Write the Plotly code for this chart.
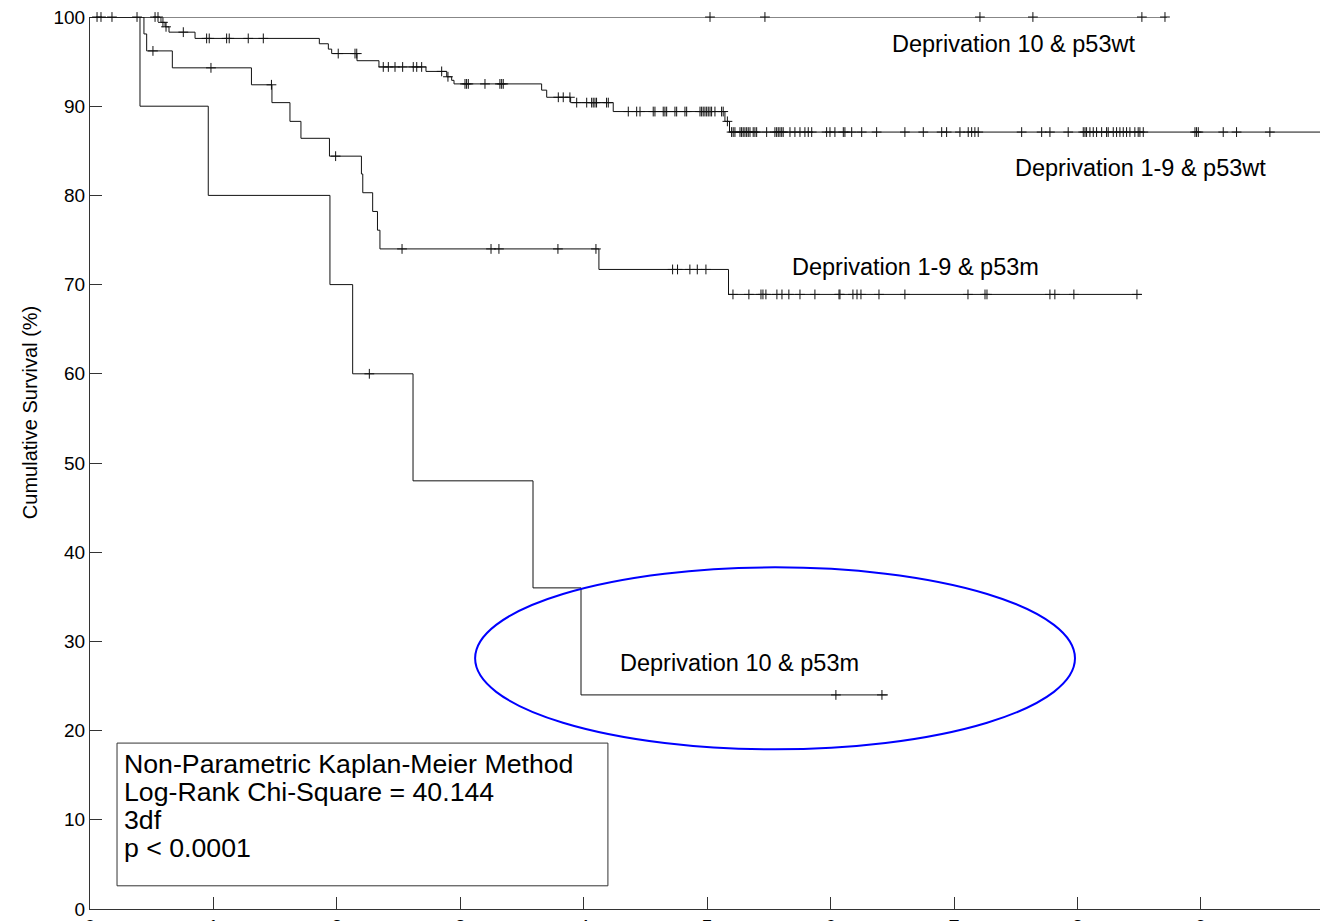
import plotly.graph_objects as go

# ---------------- data (years, % survival) ----------------
# Deprivation 10 & p53m
d10m_event_t = [0.405, 0.958, 1.944, 2.128, 2.617, 3.589, 3.978]
d10m_level = [90, 80, 70, 60, 48, 36, 24]
d10m_end = 6.465
d10m_cens_t = [2.263, 6.043, 6.416]
d10m_cens_s = [60, 24, 24]

# Deprivation 1-9 & p53m
d19m_event_t = [0.437, 0.459, 0.667, 1.308, 1.474, 1.620, 1.709, 1.940, 2.199, 2.210,
                2.290, 2.329, 2.349, 4.123, 5.173]
d19m_level = [98.1, 96.2, 94.3, 92.4, 90.4, 88.3, 86.4, 84.4, 82.4, 80.3,
              78.2, 76.1, 74.0, 71.7, 68.9]
d19m_end = 8.522
d19m_cens_t = [0.510, 0.980, 1.470, 1.990,
               2.528, 3.249, 3.313, 3.791, 4.099,
               4.72, 4.76, 4.86, 4.92, 4.99,
               5.209, 5.338, 5.436, 5.452, 5.476, 5.565, 5.606, 5.662, 5.752, 5.873,
               6.068, 6.076, 6.181, 6.214, 6.246, 6.392, 6.602, 7.113, 7.251, 7.267,
               7.777, 7.817, 7.971, 8.482]
d19m_cens_s = [96.2, 94.3, 92.4, 84.4,
               74.0, 74.0, 74.0, 74.0, 74.0,
               71.7, 71.7, 71.7, 71.7, 71.7] + [68.9] * 24

# Deprivation 1-9 & p53wt
d19w_event_t = [0.575, 0.608, 0.640, 0.851, 1.858, 1.931, 1.958, 2.163, 2.341, 2.722,
                2.890, 2.930, 2.949, 3.659, 3.700, 3.894, 4.239, 5.144, 5.181]
d19w_level = [99.4, 98.9, 98.3, 97.6, 97.0, 96.4, 95.9, 95.1, 94.4, 93.9,
              93.3, 92.9, 92.5, 91.8, 91.0, 90.4, 89.4, 88.3, 87.1]
d19w_end = 10.0
d19w_cens_t = ([0.057, 0.089, 0.178, 0.527, 0.551, 0.591, 0.616, 0.756,
                0.945, 0.966, 1.107, 1.128, 1.282, 1.404,
                2.011, 2.147, 2.161,
                2.376, 2.417, 2.471, 2.533, 2.619, 2.647, 2.687,
                2.849, 2.900,
                3.038, 3.051, 3.065, 3.200, 3.321, 3.335, 3.348,
                3.794, 3.834, 3.888,
                3.943, 4.024, 4.064, 4.077, 4.091, 4.104, 4.185, 4.199,
                4.361, 4.429, 4.456, 4.563, 4.577, 4.644, 4.658, 4.672, 4.739, 4.753,
                4.820, 4.834, 4.942, 4.955, 4.968, 4.982, 4.996, 5.009, 5.023, 5.036,
                5.063, 5.117, 5.130,
                5.164]
               + [5.198, 5.211, 5.225, 5.266, 5.279, 5.292, 5.306, 5.320, 5.333, 5.347,
                  5.373, 5.387, 5.401, 5.482, 5.549, 5.563, 5.576, 5.590, 5.604, 5.616,
                  5.671, 5.711, 5.752, 5.792, 5.819, 5.847, 5.968, 5.995, 6.035, 6.103,
                  6.116, 6.171, 6.252, 6.373, 6.602, 6.751, 6.900, 6.940, 7.048, 7.115,
                  7.143, 7.169, 7.196, 7.548, 7.710, 7.777, 7.925, 8.047, 8.061, 8.074,
                  8.101, 8.128, 8.155, 8.196, 8.236, 8.249, 8.290, 8.317, 8.344, 8.371,
                  8.398, 8.425, 8.465, 8.492, 8.506, 8.533, 8.952, 8.965, 8.979, 9.181,
                  9.289, 9.559])
d19w_cens_s = ([100, 100, 100, 100, 100, 99.4, 98.9, 98.3]
               + [97.6] * 6 + [95.9] * 3 + [94.4] * 7 + [93.9, 93.3]
               + [92.5] * 7 + [91.0] * 3 + [90.4] * 8 + [89.4] * 23 + [88.3]
               + [87.1] * 72)

# Deprivation 10 & p53wt (no events)
d10w_end = 8.725
d10w_cens_t = [0.381, 5.023, 5.468, 7.210, 7.639, 8.522, 8.709]
d10w_cens_s = [100] * 7

curve_labels = ["Deprivation 10 & p53wt", "Deprivation 1-9 & p53wt",
                "Deprivation 1-9 & p53m", "Deprivation 10 & p53m"]
stats_lines = ["Non-Parametric Kaplan-Meier Method", "Log-Rank Chi-Square = 40.144",
               "3df", "p < 0.0001"]
x_ticks = list(range(0, 11))
y_ticks = list(range(0, 101, 10))

FONT = "Liberation Sans, Arial, Helvetica, sans-serif"

fig = go.Figure()


def add_km(event_t, levels, end_t, cens_t, cens_s):
    xs = [0.0] + list(event_t) + [end_t]
    ys = [100.0] + list(levels) + [levels[-1] if levels else 100.0]
    fig.add_trace(go.Scatter(x=xs, y=ys, mode="lines", line=dict(color="#111", width=1, shape="hv"),
                             cliponaxis=False, showlegend=False, hoverinfo="skip"))
    fig.add_trace(go.Scatter(x=cens_t, y=cens_s, mode="markers",
                             marker=dict(symbol="cross-thin", size=7,
                                         line=dict(color="#111", width=1)),
                             cliponaxis=False, showlegend=False, hoverinfo="skip"))


add_km([], [], d10w_end, d10w_cens_t, d10w_cens_s)
add_km(d19w_event_t, d19w_level, d19w_end, d19w_cens_t, d19w_cens_s)
add_km(d19m_event_t, d19m_level, d19m_end, d19m_cens_t, d19m_cens_s)
add_km(d10m_event_t, d10m_level, d10m_end, d10m_cens_t, d10m_cens_s)

# curve labels
label_pos = [(6.481, 96.97), (7.477, 83.07), (5.671, 71.97), (4.277, 27.58)]
for txt, (lx, ly) in zip(curve_labels, label_pos):
    fig.add_annotation(x=lx, y=ly, text=txt, showarrow=False, xanchor="left", yanchor="middle",
                       font=dict(family=FONT, size=23.5, color="black"))

# blue ellipse
fig.add_shape(type="circle", xref="x", yref="y", x0=3.12, x1=7.98, y0=17.9, y1=38.3,
              line=dict(color="#0000ff", width=2))

# stats box
fig.add_shape(type="rect", xref="x", yref="y", x0=0.219, x1=4.196, y0=2.6, y1=18.6,
              line=dict(color="#333", width=1), fillcolor="white", layer="below")
stats_y = [16.26, 13.12, 9.98, 6.84]
for txt, sy in zip(stats_lines, stats_y):
    fig.add_annotation(x=0.262, y=sy, text=txt, showarrow=False, xanchor="left", yanchor="middle",
                       font=dict(family=FONT, size=26.7, color="black"))

# y axis title
fig.add_annotation(xref="paper", yref="y", x=-0.0488, y=55.7, text="Cumulative Survival (%)",
                   textangle=-90, showarrow=False, xanchor="center", yanchor="middle",
                   font=dict(family=FONT, size=20, color="black"))

fig.update_layout(
    width=1320, height=921,
    margin=dict(l=90, r=0, t=17, b=12, autoexpand=False),
    paper_bgcolor="white", plot_bgcolor="white",
    font=dict(family=FONT, color="black"),
    showlegend=False,
)
fig.update_xaxes(range=[0, 9.965], tickvals=x_ticks, ticktext=[str(v) for v in x_ticks],
                 ticks="inside", ticklen=12, tickcolor="#333", tickwidth=1, automargin=False,
                 showline=True, linecolor="#333", linewidth=1, showgrid=False, zeroline=False,
                 tickfont=dict(family=FONT, size=20, color="black"))
fig.update_yaxes(range=[0, 100], tickvals=y_ticks, ticktext=[str(v) for v in y_ticks],
                 ticks="inside", ticklen=12, tickcolor="#333", tickwidth=1, automargin=False,
                 showline=True, linecolor="#333", linewidth=1, showgrid=False, zeroline=False,
                 tickfont=dict(family=FONT, size=19, color="black"))

fig.write_html("out.html")
